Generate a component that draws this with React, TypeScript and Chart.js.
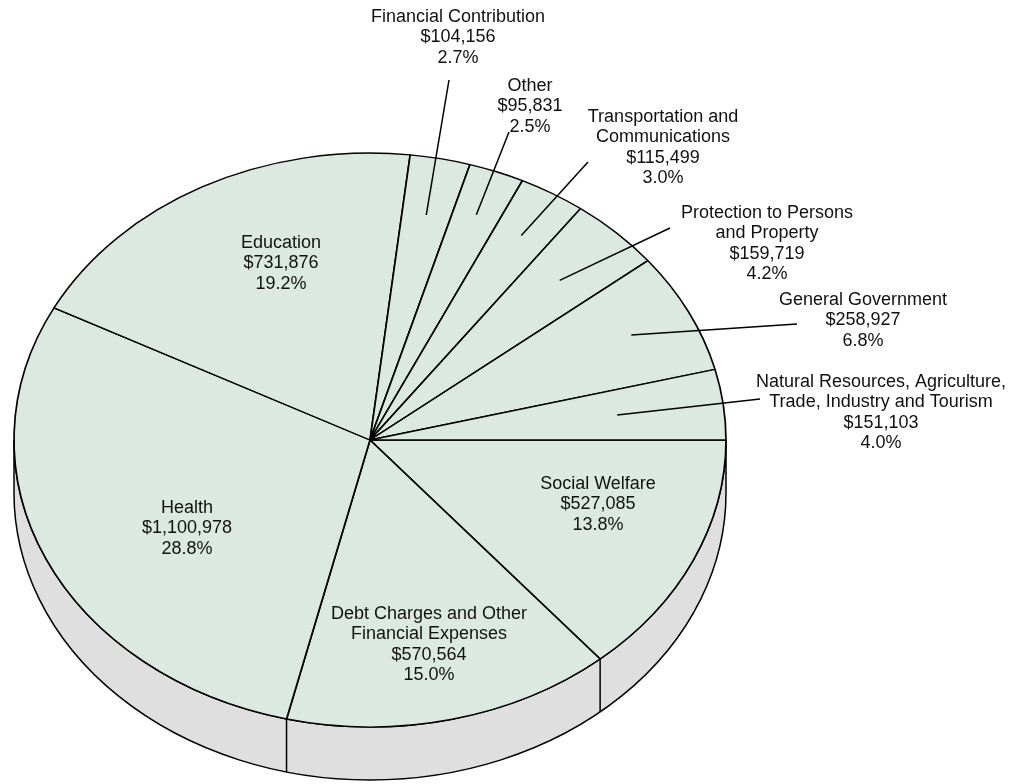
import React, { useEffect, useRef } from "react";
import { Chart, registerables } from "chart.js";

Chart.register(...registerables);

// ---------- data ----------
const categories = [
  "Social Welfare",
  "Debt Charges and Other Financial Expenses",
  "Health",
  "Education",
  "Financial Contribution",
  "Other",
  "Transportation and Communications",
  "Protection to Persons and Property",
  "General Government",
  "Natural Resources, Agriculture, Trade, Industry and Tourism",
];
const categoryLines = [
  ["Social Welfare"],
  ["Debt Charges and Other", "Financial Expenses"],
  ["Health"],
  ["Education"],
  ["Financial Contribution"],
  ["Other"],
  ["Transportation and", "Communications"],
  ["Protection to Persons", "and Property"],
  ["General Government"],
  ["Natural Resources, Agriculture,", "Trade, Industry and Tourism"],
];
const amounts = [527085, 570564, 1100978, 731876, 104156, 95831, 115499, 159719, 258927, 151103];
const percents = ["13.8%", "15.0%", "28.8%", "19.2%", "2.7%", "2.5%", "3.0%", "4.2%", "6.8%", "4.0%"];

// ---------- layout ----------
const W = 1021;
const H = 784;
const CX = 370;
const CY = 440;
const RX = 356;
const RY = 287;
const DEPTH = 53;
const FONT = "18px 'Liberation Sans', Arial, Helvetica, sans-serif";
const LINE_H = 20.5;
const TEXT_COLOR = "#111111";
const TOP_COLOR = "#dbe9e0";
const SIDE_COLOR = "#dfdfdf";
// label block centre x, first line centre y
const labelPos: [number, number][] = [
  [598, 484],
  [429, 614],
  [187, 508],
  [281, 243],
  [458, 17],
  [530, 86],
  [663, 117],
  [767, 213],
  [863, 300],
  [881, 382],
];
// outer end of leader line (null = label inside slice), radial fraction of inner end
const leaderEnd: ([number, number] | null)[] = [
  null, null, null, null,
  [449, 80],
  [509, 132],
  [588, 162],
  [670, 228],
  [797, 324],
  [760, 399],
];
const leaderFrac = [0, 0, 0, 0, 0.8, 0.84, 0.83, 0.77, 0.82, 0.7];

const fmt = (v: number) => "$" + v.toLocaleString("en-US");

const pie3d = {
  id: "pie3d",
  beforeDatasetsDraw(chart: any) {
    const ctx: CanvasRenderingContext2D = chart.ctx;
    const arcs = chart.getDatasetMeta(0).data as any[];
    if (!arcs.length) return;
    const a0 = arcs[0];
    const R = a0.outerRadius;
    const K = RY / RX;
    ctx.save();
    ctx.lineWidth = 1.5;
    ctx.strokeStyle = "#000";
    ctx.fillStyle = SIDE_COLOR;
    ctx.beginPath();
    ctx.ellipse(CX, CY, R, R * K, 0, 0, Math.PI, false);
    ctx.lineTo(CX - R, CY + DEPTH);
    ctx.ellipse(CX, CY + DEPTH, R, R * K, 0, Math.PI, 0, true);
    ctx.closePath();
    ctx.fill();
    ctx.stroke();
    for (const arc of arcs) {
      let a = arc.startAngle % (Math.PI * 2);
      if (a < 0) a += Math.PI * 2;
      if (a > 0.01 && a < Math.PI - 0.01) {
        const x = CX + R * Math.cos(a);
        const y = CY + R * K * Math.sin(a);
        ctx.beginPath();
        ctx.moveTo(x, y);
        ctx.lineTo(x, y + DEPTH);
        ctx.stroke();
      }
    }
    ctx.restore();
    ctx.save();
    ctx.translate(CX, CY);
    ctx.scale(1, K);
    ctx.translate(-a0.x, -a0.y);
  },
  afterDatasetsDraw(chart: any) {
    chart.ctx.restore();
  },
  afterDraw(chart: any) {
    const ctx: CanvasRenderingContext2D = chart.ctx;
    const arcs = chart.getDatasetMeta(0).data as any[];
    if (!arcs.length) return;
    const R = arcs[0].outerRadius;
    const K = RY / RX;
    ctx.save();
    ctx.strokeStyle = "#000";
    ctx.lineWidth = 1.5;
    arcs.forEach((arc, i) => {
      const end = leaderEnd[i];
      if (!end) return;
      const mid = (arc.startAngle + arc.endAngle) / 2;
      const f = leaderFrac[i];
      ctx.beginPath();
      ctx.moveTo(CX + f * R * Math.cos(mid), CY + f * R * K * Math.sin(mid));
      ctx.lineTo(end[0], end[1]);
      ctx.stroke();
    });
    ctx.font = FONT;
    ctx.fillStyle = TEXT_COLOR;
    ctx.textAlign = "center";
    ctx.textBaseline = "middle";
    categories.forEach((_, i) => {
      const lines = [...categoryLines[i], fmt(amounts[i]), percents[i]];
      const [x, y] = labelPos[i];
      lines.forEach((t, j) => ctx.fillText(t, x, y + j * LINE_H));
    });
    ctx.restore();
  },
};

export default function App() {
  const ref = useRef<HTMLCanvasElement>(null);
  useEffect(() => {
    if (!ref.current) return;
    const chart = new Chart(ref.current, {
      type: "pie",
      data: {
        labels: categories,
        datasets: [
          {
            data: amounts,
            backgroundColor: TOP_COLOR,
            borderColor: "#000",
            borderWidth: 1.7,
            clip: false as any,
          } as any,
        ],
      },
      options: {
        animation: false,
        responsive: false,
        devicePixelRatio: 1,
        rotation: 90,
        radius: RX,
        layout: { padding: 0 },
        plugins: {
          legend: { display: false },
          tooltip: { enabled: false },
          title: { display: false },
        },
        events: [],
      } as any,
      plugins: [pie3d],
    });
    return () => chart.destroy();
  }, []);
  return (
    <div style={{ position: "fixed", left: 0, top: 0, width: W, height: H, background: "#fff", overflow: "hidden" }}>
      <canvas ref={ref} width={W} height={H} style={{ display: "block", width: W, height: H }} />
    </div>
  );
}
